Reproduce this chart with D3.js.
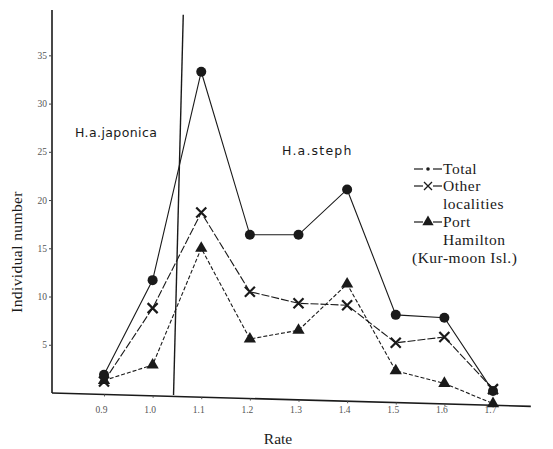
<!DOCTYPE html>
<html><head><meta charset="utf-8">
<script src="https://cdn.jsdelivr.net/npm/d3@7"></script>
<style>
html,body{margin:0;padding:0;background:#fff;}
svg{display:block;}
</style></head>
<body>
<svg id="chart" width="553" height="449"></svg>
<script>
// ---- data ----
const rates = [0.9, 1.0, 1.1, 1.2, 1.3, 1.4, 1.5, 1.6, 1.7];
const rateLabels = ["0.9", "1.0", "1.1", "1.2", "1.3", "1.4", "1.5", "1.6", "1.7"];
const totalValues = [1.9, 11.7, 33.3, 16.4, 16.4, 21.1, 8.1, 7.8, 0.2];
const otherValues = [1.2, 8.8, 18.7, 10.5, 9.3, 9.1, 5.2, 5.8, 0.4];
const portValues  = [1.3, 2.9, 15.0, 5.6, 6.5, 11.3, 2.3, 1.0, -1.1];
const yTicks = [5, 10, 15, 20, 25, 30, 35];
const dividerRate = [1.063, 1.043]; // top, bottom of separator line
const legendLines = ["Total", "Other", "localities", "Port", "Hamilton", "(Kur-moon Isl.)"];

const svg = d3.select("#chart");
const x = d3.scaleLinear().domain([0.9, 1.7]).range([104, 493]);
const y = d3.scaleLinear().domain([0, 39.7]).range([393, 10]);
const ink = "#1a1a1a";
const axisX = 52;
const tilt = 1.6;

// y axis
const yAxis = svg.append("g").attr("transform", `translate(${axisX},0)`)
  .call(d3.axisLeft(y).tickValues(yTicks).tickFormat(d => String(d)).tickSizeInner(3).tickSizeOuter(0));
yAxis.select(".domain").attr("d", `M0,${y.range()[1]}V${y.range()[0]}`).attr("stroke", ink).attr("stroke-width", 1.6);
yAxis.selectAll(".tick line").attr("stroke", "#444");
yAxis.selectAll(".tick text").attr("font-family", "Liberation Serif, serif").attr("font-size", 9.5).attr("fill", "#555").attr("x", -5);

// x axis
const xAxis = svg.append("g").attr("transform", "translate(0,393)")
  .call(d3.axisBottom(x).tickValues(rates).tickFormat((d, i) => rateLabels[i]).tickSizeInner(2).tickSizeOuter(0));
xAxis.select(".domain").attr("d", `M${axisX},0H531`).attr("stroke", ink).attr("stroke-width", 1.6)
  .attr("transform", `rotate(${tilt},${axisX},0)`);
xAxis.selectAll(".tick line").attr("stroke", "#555")
  .attr("transform", d => `translate(0,${(x(d) - axisX) * Math.tan(tilt * Math.PI / 180)})`);
xAxis.selectAll(".tick text").attr("font-family", "Liberation Serif, serif").attr("font-size", 9.5)
  .attr("fill", "#555").attr("y", 13).attr("dx", -3);

// separator line between subspecies
svg.append("line")
  .attr("x1", x(dividerRate[0])).attr("y1", y(39.2))
  .attr("x2", x(dividerRate[1])).attr("y2", y(-0.2))
  .attr("stroke", ink).attr("stroke-width", 1.4);

// axis titles
svg.append("text").attr("transform", "translate(22,252) rotate(-90)")
  .attr("text-anchor", "middle").attr("font-family", "Liberation Serif, serif")
  .attr("font-size", 15.5).attr("letter-spacing", 0.4).attr("fill", ink).text("Individual number");
svg.append("text").attr("x", 278).attr("y", 444).attr("text-anchor", "middle")
  .attr("font-family", "Liberation Serif, serif").attr("font-size", 15.5).attr("fill", ink).text("Rate");

// region labels
svg.append("text").attr("x", 75).attr("y", 137).attr("font-family", "DejaVu Sans, sans-serif")
  .attr("font-size", 12.5).attr("letter-spacing", 0.4).attr("fill", ink).text("H.a.japonica");
svg.append("text").attr("x", 282).attr("y", 155).attr("font-family", "DejaVu Sans, sans-serif")
  .attr("font-size", 12.5).attr("letter-spacing", 1.2).attr("fill", ink).text("H.a.steph");

// series
const series = [
  {name: "total", values: totalValues, dash: null},
  {name: "other", values: otherValues, dash: "8,2"},
  {name: "port", values: portValues, dash: "4,2"}
];
const line = d3.line().x((d, i) => x(rates[i])).y(d => y(d));
series.forEach(s => {
  svg.append("path").datum(s.values).attr("d", line)
    .attr("fill", "none").attr("stroke", ink).attr("stroke-width", 1.1)
    .attr("stroke-dasharray", s.dash);
});

// markers
const tri = d3.symbol().type(d3.symbolTriangle).size(65);
svg.append("g").selectAll("path").data(portValues).join("path")
  .attr("d", tri).attr("transform", (d, i) => `translate(${x(rates[i])},${y(d)})`).attr("fill", ink);
const xs = svg.append("g").selectAll("g").data(otherValues).join("g")
  .attr("transform", (d, i) => `translate(${x(rates[i])},${y(d)})`);
xs.append("path").attr("d", "M-5,-5L5,5M-5,5L5,-5").attr("stroke", ink).attr("stroke-width", 2.2);
svg.append("g").selectAll("circle").data(totalValues).join("circle")
  .attr("cx", (d, i) => x(rates[i])).attr("cy", d => y(d)).attr("r", 5)
  .attr("fill", ink);

// legend
const lg = svg.append("g").attr("font-family", "Liberation Serif, serif").attr("font-size", 15.5)
  .attr("letter-spacing", 0.5).attr("fill", ink);
const baselines = [174, 191, 209, 227, 245, 263];
const symRows = [0, 1, 3];
const symX = 428;
symRows.forEach(r => {
  const ly = baselines[r] - 5;
  lg.append("line").attr("x1", 414).attr("x2", 423).attr("y1", ly).attr("y2", ly).attr("stroke", ink).attr("stroke-width", 1.2);
  lg.append("line").attr("x1", 433).attr("x2", 442).attr("y1", ly).attr("y2", ly).attr("stroke", ink).attr("stroke-width", 1.2);
});
lg.append("circle").attr("cx", symX).attr("cy", baselines[0] - 5).attr("r", 1.8).attr("fill", ink);
lg.append("path").attr("d", "M-4,-4L4,4M-4,4L4,-4").attr("transform", `translate(${symX},${baselines[1] - 5})`)
  .attr("stroke", ink).attr("stroke-width", 1.3);
lg.append("path").attr("d", d3.symbol().type(d3.symbolTriangle).size(55))
  .attr("transform", `translate(${symX},${baselines[3] - 5})`).attr("fill", ink);
const textX = [443, 443, 443, 443, 443, 412];
legendLines.forEach((t, i) => {
  lg.append("text").attr("x", textX[i]).attr("y", baselines[i]).text(t);
});
</script>
</body></html>
